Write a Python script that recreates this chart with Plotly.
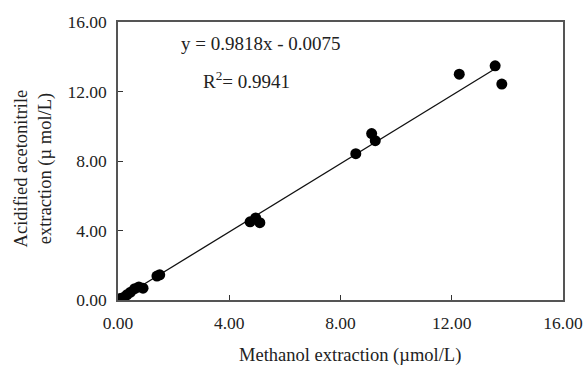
import plotly.graph_objects as go

methanol = [0.08, 0.2, 0.32, 0.45, 0.6, 0.75, 0.9, 1.4, 1.5,
            4.75, 4.95, 5.1, 8.55, 9.12, 9.25, 12.27, 13.56, 13.8]
acetonitrile = [0.08, 0.15, 0.3, 0.45, 0.65, 0.75, 0.68, 1.38, 1.45,
                4.5, 4.72, 4.45, 8.42, 9.58, 9.17, 13.0, 13.48, 12.43]
slope = 0.9818
intercept = -0.0075
fit_x = [0.08, 13.56]
fit_y = [slope * v + intercept for v in fit_x]
tick_vals = [0, 4, 8, 12, 16]
tick_text = ["0.00", "4.00", "8.00", "12.00", "16.00"]

FONT = "Liberation Serif, Times New Roman, serif"
TXT = "#222222"

fig = go.Figure()
fig.add_trace(go.Scatter(x=fit_x, y=fit_y, mode="lines",
                         line=dict(color="#111111", width=1.3),
                         showlegend=False, hoverinfo="skip"))
fig.add_trace(go.Scatter(x=methanol, y=acetonitrile, mode="markers",
                         marker=dict(color="black", size=11),
                         showlegend=False))

axis_common = dict(
    showgrid=False, zeroline=False, showline=True, mirror=True,
    linecolor="#555555", linewidth=1.5, ticks="inside", ticklen=5,
    tickcolor="#333333", tickwidth=1, automargin=False,
    tickfont=dict(family=FONT, size=17.5, color=TXT),
    tickvals=tick_vals, ticktext=tick_text,
)
fig.update_xaxes(range=[0, 16], ticklabelstandoff=6, **axis_common)
fig.update_yaxes(range=[0, 16], ticklabelstandoff=6, **axis_common)

fig.add_annotation(xref="paper", yref="paper", x=0.521, y=-0.198,
                   xanchor="center", yanchor="middle", showarrow=False,
                   text="Methanol extraction (µmol/L)",
                   font=dict(family=FONT, size=18.5, color=TXT))
fig.add_annotation(xref="paper", yref="paper", x=-0.19, y=0.475,
                   xanchor="center", yanchor="middle", showarrow=False,
                   textangle=-90,
                   text="Acidified acetonitrile<br>extraction (µ mol/L)",
                   font=dict(family=FONT, size=18.5, color=TXT))

fig.add_annotation(xref="paper", yref="paper", x=0.136, y=0.924,
                   xanchor="left", yanchor="middle", showarrow=False,
                   text="y = 0.9818x - 0.0075",
                   font=dict(family=FONT, size=19, color=TXT))
fig.add_annotation(xref="paper", yref="paper", x=0.186, y=0.79,
                   xanchor="left", yanchor="middle", showarrow=False,
                   text="R<sup>2</sup>= 0.9941",
                   font=dict(family=FONT, size=19, color=TXT))

fig.update_layout(
    width=584, height=368,
    margin=dict(l=118, r=21, t=22, b=68),
    paper_bgcolor="white", plot_bgcolor="white",
)
fig.write_html("out.html")
